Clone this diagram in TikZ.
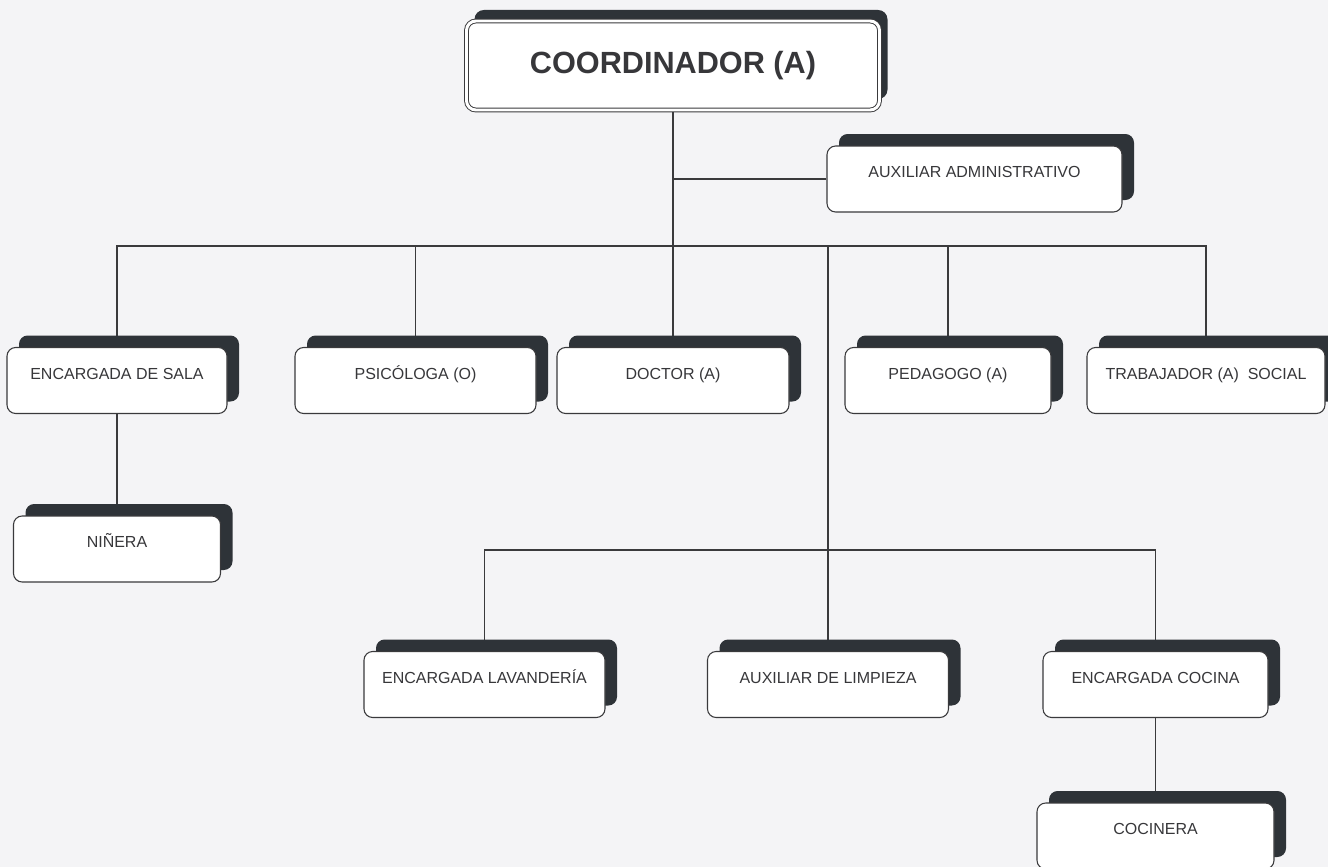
\documentclass[tikz,border=0pt]{standalone}
\usepackage{fontspec}
\setmainfont{Liberation Sans}
\definecolor{fondo}{RGB}{244,244,246}
\definecolor{linea}{RGB}{58,58,60}
\definecolor{sombra}{RGB}{46,51,56}
\definecolor{texto}{RGB}{55,55,58}
\pgfdeclarelayer{fondo}
\pgfdeclarelayer{lineas}
\pgfsetlayers{fondo,lineas,main}
\tikzset{
  caja/.style={draw=linea, line width=0.8pt, fill=white, rounded corners=6.5pt,
    text=texto, font=\fontsize{12}{14}\selectfont, minimum height=49.5pt,
    text height=8pt, text depth=10pt, inner sep=0pt},
  cargo/.style={caja,
    preaction={fill=sombra, draw=none, transform canvas={xshift=9pt, yshift=9pt}}},
  jefe/.style={caja, double=white, double distance=2.2pt, line width=0.7pt,
    font=\bfseries\fontsize{23}{26}\selectfont, minimum height=66.75pt,
    text height=16.5pt, text depth=4pt, rounded corners=7pt,
    preaction={fill=sombra, draw=none, transform canvas={xshift=6pt, yshift=8.25pt}}},
  enlace/.style={draw=linea, line width=0.8pt}
}
\begin{document}
\begin{tikzpicture}[x=0.75pt, y=-0.75pt]
  \begin{pgfonlayer}{fondo}
    \fill[fondo] (0,0) rectangle (1328,867);
  \end{pgfonlayer}
  \useasboundingbox (0,0) rectangle (1328,867);

  \node[jefe, minimum width=309.75pt] (coord) at (673,65.5) {COORDINADOR (A)};
  \node[cargo, minimum width=221.25pt] (aux) at (974.5,179) {AUXILIAR ADMINISTRATIVO};

  % segundo nivel
  \node[cargo, minimum width=165pt] (sala) at (117,380.5) {ENCARGADA DE SALA};
  \node[cargo, minimum width=180.75pt] (psico) at (415.5,380.5) {PSICÓLOGA (O)};
  \node[cargo, minimum width=174pt] (doctor) at (673,380.5) {DOCTOR (A)};
  \node[cargo, minimum width=154.5pt] (peda) at (948,380.5) {PEDAGOGO (A)};
  \node[cargo, minimum width=178.5pt] (trab) at (1206,380.5) {TRABAJADOR (A)~ SOCIAL};
  \node[cargo, minimum width=155.25pt] (ninera) at (117,549) {NIÑERA};

  % servicios
  \node[cargo, minimum width=180.75pt] (lav) at (484.5,684.5) {ENCARGADA LAVANDERÍA};
  \node[cargo, minimum width=180.75pt] (limp) at (828,684.5) {AUXILIAR DE LIMPIEZA};
  \node[cargo, minimum width=168.75pt] (cocina) at (1155.5,684.5) {ENCARGADA COCINA};
  \node[cargo, minimum width=177.75pt] (cocinera) at (1155.5,836) {COCINERA};

  \begin{pgfonlayer}{lineas}
    \coordinate (bus) at (673,246);
    \coordinate (bus2) at (828,550);
    \draw[enlace] (coord.south) -- (doctor.north);
    \draw[enlace] (aux.west) -- (aux.west -| coord.south);
    \draw[enlace] (sala.north) |- (bus) -| (trab.north);
    \draw[enlace] (psico.north) |- (bus);
    \draw[enlace] (peda.north) |- (bus);
    \draw[enlace] (limp.north) |- (bus);
    \draw[enlace] (lav.north) |- (bus2) -| (cocina.north);
    \draw[enlace] (sala.south) -- (ninera.north);
    \draw[enlace] (cocina.south) -- (cocinera.north);
  \end{pgfonlayer}
\end{tikzpicture}
\end{document}
